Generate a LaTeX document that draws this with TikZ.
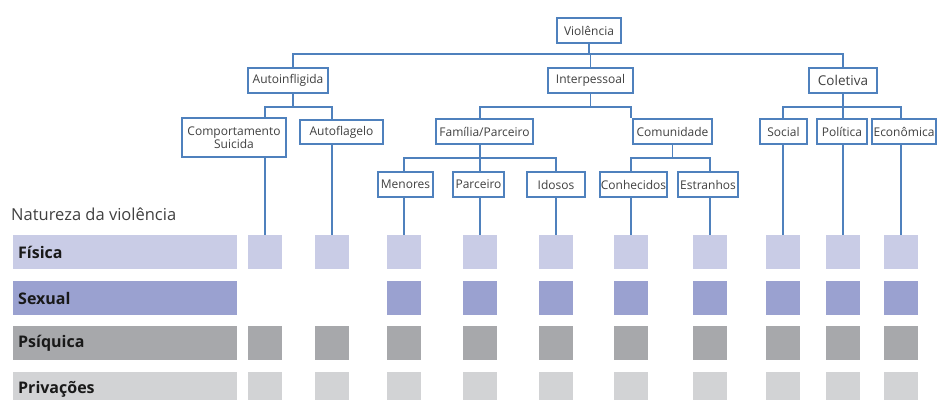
\documentclass[tikz,border=0pt]{standalone}
\usepackage{fontspec}
\setmainfont{Open Sans}
\definecolor{boxblue}{HTML}{4F81BD}
\definecolor{txtgray}{HTML}{404040}
\definecolor{cfis}{HTML}{C9CCE6}
\definecolor{csex}{HTML}{9AA1D0}
\definecolor{cpsi}{HTML}{A7A8AB}
\definecolor{cpri}{HTML}{D2D3D5}
\tikzset{
  tbox/.style={draw=boxblue, line width=1.4pt, fill=white, inner sep=0pt,
    minimum height=25pt, text=txtgray, font=\fontsize{12}{13.5}\selectfont, align=center},
  link/.style={draw=boxblue, line width=1.4pt},
  sq/.style={minimum width=34pt, minimum height=34pt, inner sep=0pt, anchor=north},
  bar/.style={minimum width=224pt, minimum height=34pt, inner sep=0pt, anchor=north west,
    text=black!90, font=\fontsize{16}{18}\bfseries\selectfont, text width=214pt, align=left}
}
\begin{document}
\begin{tikzpicture}[x=1pt, y=-1pt]
\useasboundingbox (0,0) rectangle (937,399);

% columns of the matrix
\foreach \n/\x in {1/265, 2/332, 3/404, 4/480, 5/556, 6/631, 7/710, 8/783, 9/843, 10/901}
  \coordinate (k\n) at (\x,235);
% bus levels
\coordinate (busA) at (0,54);
\coordinate (busB) at (0,107);
\coordinate (busC) at (0,158);

% tree boxes
\node[tbox, minimum width=64pt] (vio) at (589,30.5) {Violência};
\node[tbox, minimum width=80pt] (aut) at (288,80.5) {Autoinfligida};
\node[tbox, minimum width=85pt] (int) at (590.5,80.5) {Interpessoal};
\node[tbox, minimum width=68pt, font=\fontsize{13.5}{15}\selectfont] (col) at (843,80.5) {Coletiva};
\node[tbox, minimum width=104pt, minimum height=39pt] (cs) at (234,137.5) {Comportamento\\Suicida};
\node[tbox, minimum width=83pt, minimum height=24pt] (af) at (341.5,132) {Autoflagelo};
\node[tbox, minimum width=97pt] (fam) at (484.5,131.5) {Família/Parceiro};
\node[tbox, minimum width=79pt] (com) at (672.5,131.5) {Comunidade};
\node[tbox, minimum width=47pt] (soc) at (783.5,131.5) {Social};
\node[tbox, minimum width=50pt] (pol) at (842,131.5) {Política};
\node[tbox, minimum width=64pt] (eco) at (904,131.5) {Econômica};
\node[tbox, minimum width=55pt] (men) at (405.5,184.5) {Menores};
\node[tbox, minimum width=51pt] (par) at (478.5,184.5) {Parceiro};
\node[tbox, minimum width=58pt] (ido) at (556,184.5) {Idosos};
\node[tbox, minimum width=67pt] (con) at (633.5,184.5) {Conhecidos};
\node[tbox, minimum width=60pt] (est) at (708,184.5) {Estranhos};

% tree connectors
\begin{scope}[link]
  % Violência to its three kinds
  \draw (vio.south) -- (vio.south |- busA);
  \draw ([xshift=5pt]aut.north) -- ([xshift=5pt]aut.north |- busA) -- (col.north |- busA) -- (col.north);
  \draw (int.north) -- (int.north |- busA);
  % Autoinfligida branch
  \draw ([xshift=5pt]aut.south) -- ([xshift=5pt]aut.south |- busB);
  \draw (cs.north -| k1) -- (k1 |- busB) -- (k2 |- busB) -- (af.north -| k2);
  % Interpessoal branch
  \draw (int.south) -- (int.south |- busB);
  \draw (fam.north -| k4) -- (k4 |- busB) -- (k6 |- busB) -- (com.north -| k6);
  \draw (fam.south -| k4) -- (k4 |- busC);
  \draw (men.north -| k3) -- (k3 |- busC) -- (k5 |- busC) -- (ido.north -| k5);
  \draw (par.north -| k4) -- (k4 |- busC);
  \draw (com.south) -- (com.south |- busC);
  \draw (con.north -| k6) -- (k6 |- busC) -- (k7 |- busC) -- (est.north -| k7);
  % Coletiva branch
  \draw (col.south) -- (col.south |- busB);
  \draw (soc.north -| k8) -- (k8 |- busB) -- (k10 |- busB) -- (eco.north -| k10);
  \draw (pol.north -| k9) -- (k9 |- busB);
  % drops to the matrix
  \draw (cs.south -| k1) -- (k1);
  \draw (af.south -| k2) -- (k2);
  \draw (men.south -| k3) -- (k3);
  \draw (par.south -| k4) -- (k4);
  \draw (ido.south -| k5) -- (k5);
  \draw (con.south -| k6) -- (k6);
  \draw (est.south -| k7) -- (k7);
  \draw (soc.south -| k8) -- (k8);
  \draw (pol.south -| k9) -- (k9);
  \draw (eco.south -| k10) -- (k10);
\end{scope}

% matrix caption
\node[anchor=west, inner sep=0pt, text=txtgray, font=\fontsize{16.5}{18}\selectfont] (nat) at (11,214) {Natureza da violência};

% rows
\node[bar, fill=cfis] (rfis) at (13,235) {Física};
\node[bar, fill=csex] (rsex) at (13,281) {Sexual};
\node[bar, fill=cpsi] (rpsi) at (13,326) {Psíquica};
\node[bar, fill=cpri] (rpri) at (13,372) {Privações};

\foreach \n in {1,...,10} {
  \node[sq, fill=cfis] (f\n) at (k\n) {};
  \node[sq, fill=cpsi] (p\n) at ([yshift=-91pt]k\n) {};
  \node[sq, fill=cpri] (v\n) at ([yshift=-137pt]k\n) {};
}
\foreach \n in {3,...,10}
  \node[sq, fill=csex] (s\n) at ([yshift=-46pt]k\n) {};
\end{tikzpicture}
\end{document}
